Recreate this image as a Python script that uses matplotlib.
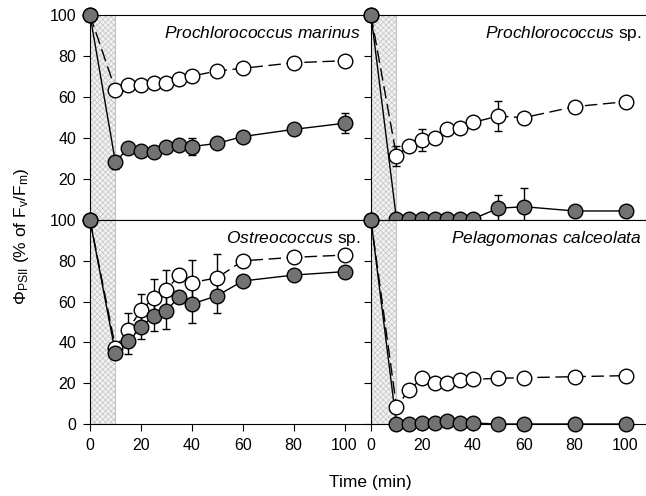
import matplotlib
matplotlib.use('Agg')
import matplotlib.pyplot as plt
import numpy as np

plt.rcParams['font.family'] = ['Liberation Sans', 'DejaVu Sans']
plt.rcParams['mathtext.fontset'] = 'custom'
plt.rcParams['mathtext.rm'] = 'Liberation Sans'
plt.rcParams['mathtext.it'] = 'Liberation Sans:italic'
plt.rcParams['hatch.linewidth'] = 0.5

# Tiempo (min)
t = [0, 10, 15, 20, 25, 30, 35, 40, 50, 60, 80, 100]

# Prochlorococcus marinus
pm_open = [100, 63.5, 66, 66, 66.7, 67, 68.6, 70.2, 72.7, 74, 76.7, 77.7]
pm_open_err = [0, 0, 0, 0, 0, 0, 0, 0, 0, 0, 0, 0]
pm_fill = [100, 28.1, 35.3, 33.8, 33.3, 35.8, 36.6, 35.8, 37.4, 40.7, 44.2, 47.2]
pm_fill_err = [0, 3, 0, 0, 0, 0, 0, 4, 0, 0, 0, 5]

# Prochlorococcus sp.
ps_open = [100, 31.2, 36.3, 39, 39.8, 44.2, 44.7, 47.6, 50.7, 49.9, 55.3, 57.7]
ps_open_err = [0, 5, 0, 5.5, 0, 2.5, 0, 2, 7.5, 0, 2, 0]
ps_fill = [100, 0.5, 0.5, 0.5, 0.5, 0.5, 0.5, 0.5, 5.7, 6.5, 4.4, 4.4]
ps_fill_err = [0, 0, 0, 0, 0, 0, 0, 0, 6.5, 9.3, 0, 0]

# Ostreococcus sp.
os_open = [100, 37.4, 46.1, 55.9, 61.6, 65.7, 73, 69.3, 71.7, 80, 81.7, 82.8]
os_open_err = [0, 0, 8.2, 7.8, 9.5, 10, 3, 11, 11.6, 0, 0, 0]
os_fill = [100, 34.6, 40.7, 47.7, 52.9, 55.5, 62.4, 58.8, 62.9, 70.1, 73, 74.7]
os_fill_err = [0, 0, 6.5, 6.2, 7.4, 8.7, 3, 9.5, 8.7, 0, 0, 0]

# Pelagomonas calceolata
pc_open = [100, 8.5, 16.7, 22.4, 20.3, 20.3, 21.6, 21.9, 22.4, 22.7, 23.2, 23.7]
pc_open_err = [0, 0, 0, 0, 0, 0, 0, 0, 0, 0, 0, 0]
pc_fill = [100, 0, 0, 0.5, 0.5, 1.5, 0.5, 0.5, 0, 0, 0, 0]
pc_fill_err = [0, 0, 0, 0, 0, 0, 0, 0, 0, 0, 0, 0]

fig = plt.figure(figsize=(6.46, 4.96), dpi=100)

W = 280 / 646
pos = {
    'tl': [90 / 646, 1 - 220 / 496, W, 205 / 496],
    'tr': [371 / 646, 1 - 220 / 496, W, 205 / 496],
    'bl': [90 / 646, 1 - 424 / 496, W, 204 / 496],
    'br': [371 / 646, 1 - 424 / 496, W, 204 / 496],
}

paneles = [
    ('tl', pm_open, pm_open_err, pm_fill, pm_fill_err, r'$\it{Prochlorococcus\ marinus}$'),
    ('tr', ps_open, ps_open_err, ps_fill, ps_fill_err, r'$\it{Prochlorococcus}$ sp.'),
    ('bl', os_open, os_open_err, os_fill, os_fill_err, r'$\it{Ostreococcus}$ sp.'),
    ('br', pc_open, pc_open_err, pc_fill, pc_fill_err, r'$\it{Pelagomonas\ calceolata}$'),
]

gris = '#727272'

for key, yo, eo, yf, ef, nombre in paneles:
    ax = fig.add_axes(pos[key])
    ax.set_xlim(0, 110)
    ax.set_ylim(0, 100)

    # zona de estres
    ax.axvspan(0, 10, facecolor='#f2f2f2', edgecolor='#c4c4c4', hatch='xxxxxx',
               linewidth=0.8, zorder=0)

    ax.errorbar(t, yo, yerr=eo, fmt='none', ecolor='black', elinewidth=1,
                capsize=3, capthick=1, zorder=2)
    ax.errorbar(t, yf, yerr=ef, fmt='none', ecolor='black', elinewidth=1,
                capsize=3, capthick=1, zorder=2)
    ax.plot(t, yo, color='black', linewidth=1, dashes=(9, 4), zorder=1, clip_on=False)
    ax.plot(t, yf, color='black', linewidth=1, zorder=1, clip_on=False)
    ax.plot(t, yo, linestyle='none', marker='o', markersize=10.5, markerfacecolor='white',
            markeredgecolor='black', markeredgewidth=1, zorder=3, clip_on=False)
    ax.plot(t, yf, linestyle='none', marker='o', markersize=10.5, markerfacecolor=gris,
            markeredgecolor='black', markeredgewidth=1, zorder=4, clip_on=False)

    ax.text(0.967, 0.91, nombre, transform=ax.transAxes, ha='right', va='center',
            fontsize=12.5)

    ax.spines['right'].set_visible(False)
    ax.set_xticks([0, 20, 40, 60, 80, 100])
    ax.set_yticks([0, 20, 40, 60, 80, 100])
    ax.tick_params(direction='out', length=5, pad=5, labelsize=11.5)

    if key in ('tl', 'tr'):
        ax.tick_params(labelbottom=False)
    if key in ('tr', 'br'):
        ax.tick_params(labelleft=False)
    if key == 'tl':
        ax.set_yticklabels(['', '20', '40', '60', '80', '100'])

fig.text(22 / 646, 1 - 236 / 496,
         r'$\Phi_{\mathrm{PSII}}$ (% of F$_{\mathrm{v}}$/F$_{\mathrm{m}}$)',
         rotation=90, ha='center', va='center', fontsize=12.5)
fig.text(370 / 646, 1 - 483 / 496, 'Time (min)', ha='center', va='center', fontsize=12.5)

fig.savefig('out.png', dpi=100)
